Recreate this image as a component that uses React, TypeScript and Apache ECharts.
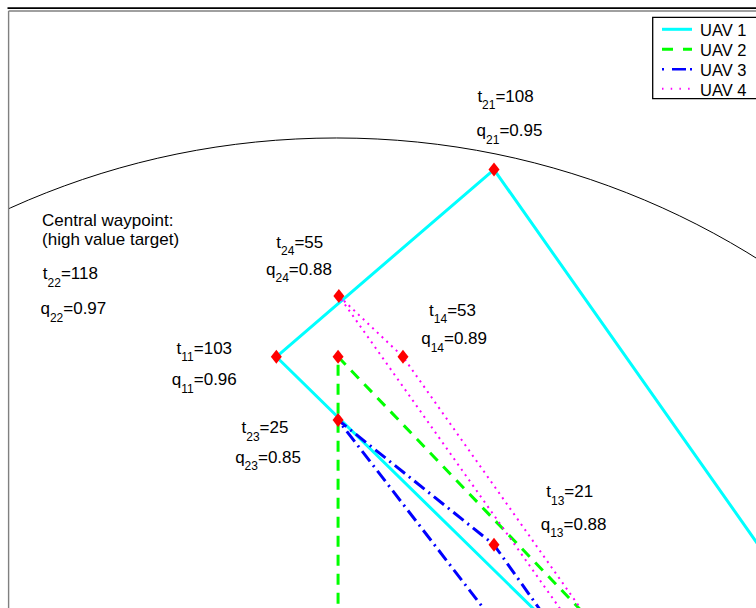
import React, { useEffect, useRef } from "react";
import * as echarts from "echarts";

// Boundary circle: centre x, centre y, radius (data units)
const boundaryCircle = [[0, 0, 10]];

// UAV routes (data units); end points leave the visible area
const uav1Path = [[6.7, 2.9], [1.99, 9.6], [-0.76, 7.23], [3.65, 2.9]];
const uav2Path = [[0.02, 2.9], [0.02, 7.23], [4.16, 2.9]];
const uav3Path = [[2.74, 2.9], [0.02, 6.43], [1.99, 4.85], [3.37, 2.9]];
const uav4Path = [[3.63, 2.9], [0.03, 8.0], [0.84, 7.23], [3.89, 2.9]];

// Waypoint markers
const waypointX = [1.99, 0.03, -0.76, 0.02, 0.84, 0.02, 1.99];
const waypointY = [9.6, 8.0, 7.23, 7.23, 7.23, 6.43, 4.85];

// Annotations
const noteLines = ["Central waypoint:", "(high value target)"];
const noteX = [-3.72, -3.72];
const noteY = [8.95, 8.71];

const targetIds = ["21", "22", "24", "11", "23", "14", "13"];
const targetTimes = [108, 118, 55, 103, 25, 53, 21];
const targetValues = [0.95, 0.97, 0.88, 0.96, 0.85, 0.89, 0.88];
const timeLabelX = [1.78, -3.71, -0.76, -2.02, -1.2, 1.17, 2.65];
const timeLabelY = [10.53, 8.28, 8.68, 7.34, 6.33, 7.82, 5.52];
const valueLabelX = [1.77, -3.74, -0.89, -2.08, -1.28, 1.07, 2.58];
const valueLabelY = [10.09, 7.84, 8.34, 6.94, 5.96, 7.46, 5.11];

const legendNames = ["UAV 1", "UAV 2", "UAV 3", "UAV 4"];

const FONT = "Liberation Sans, Arial, Helvetica, sans-serif";

export default function App() {
  const ref = useRef<HTMLDivElement>(null);

  useEffect(() => {
    if (!ref.current) return;
    const chart = echarts.init(ref.current, null, { renderer: "svg" });

    const annotationData: any[] = [];
    noteLines.forEach((t, i) => {
      annotationData.push({ value: [noteX[i], noteY[i]], text: `{n|${t}}` });
    });
    targetIds.forEach((id, i) => {
      annotationData.push({
        value: [timeLabelX[i], timeLabelY[i]],
        text: `{n|t}{s|${id}}{n|=${targetTimes[i]}}`,
      });
      annotationData.push({
        value: [valueLabelX[i], valueLabelY[i]],
        text: `{n|q}{s|${id}}{n|=${targetValues[i].toFixed(2)}}`,
      });
    });

    const lineSeries = (name: string, data: number[][], lineStyle: any) => ({
      type: "line",
      name,
      data,
      symbol: "none",
      showSymbol: false,
      clip: true,
      silent: true,
      lineStyle,
      z: 3,
    });

    const legendY = [29.3, 49.3, 69.3, 88.8];
    const legendStyles = [
      { stroke: "#00ffff", lineWidth: 3 },
      { stroke: "#00ff00", lineWidth: 3, lineDash: [11, 10] },
      { stroke: "#0000ff", lineWidth: 2.5, lineDash: [2, 8, 14, 4] },
      { stroke: "#ff00ff", lineWidth: 2, lineDash: [1.5, 7.2] },
    ];

    const graphic: any[] = [
      {
        type: "line",
        shape: { x1: 7.5, y1: 8.2, x2: 756, y2: 8.2 },
        style: { stroke: "#000", lineWidth: 1.8 },
        z: 200,
      },
      {
        type: "line",
        shape: { x1: 8.6, y1: 11, x2: 756, y2: 11 },
        style: { stroke: "#808080", lineWidth: 1.4 },
        z: 200,
      },
      {
        type: "line",
        shape: { x1: 8.6, y1: 11, x2: 8.6, y2: 608 },
        style: { stroke: "#808080", lineWidth: 1.4 },
        z: 200,
      },
      {
        type: "rect",
        shape: { x: 652.7, y: 17.3, width: 200, height: 81.4 },
        style: { fill: "#fff", stroke: "#000", lineWidth: 1.3 },
        z: 210,
      },
    ];
    legendNames.forEach((name, i) => {
      graphic.push({
        type: "line",
        shape: { x1: 662, y1: legendY[i], x2: 692, y2: legendY[i] },
        style: { ...legendStyles[i], fill: null },
        z: 211,
      });
      graphic.push({
        type: "text",
        x: 700,
        y: legendY[i] + 1,
        style: {
          text: name,
          fontSize: 16.5,
          fontFamily: FONT,
          fill: "#000",
          verticalAlign: "middle",
          align: "left",
        },
        z: 211,
      });
    });

    const option: any = {
      animation: false,
      backgroundColor: "#fff",
      grid: { left: 8, top: 10, right: 0, bottom: 0 },
      xAxis: { type: "value", min: -4.15, max: 5.3, show: false },
      yAxis: { type: "value", min: 4.05, max: 11.62, show: false },
      series: [
        {
          type: "custom",
          name: "boundary",
          clip: true,
          silent: true,
          z: 1,
          data: boundaryCircle,
          renderItem: (params: any, api: any) => {
            const c = api.coord([api.value(0), api.value(1)]);
            const s = api.size([api.value(2), api.value(2)]);
            return {
              type: "ellipse",
              shape: { cx: c[0], cy: c[1], rx: s[0], ry: s[1] },
              style: { fill: "none", stroke: "#000", lineWidth: 1 },
            };
          },
        },
        lineSeries("UAV 1", uav1Path, { color: "#00ffff", width: 3, type: "solid" }),
        lineSeries("UAV 2", uav2Path, { color: "#00ff00", width: 3, type: [11, 8] }),
        lineSeries("UAV 3", uav3Path, { color: "#0000ff", width: 3, type: [13, 5, 2, 5] }),
        lineSeries("UAV 4", uav4Path, { color: "#ff00ff", width: 2, type: [2, 4.5] }),
        {
          type: "scatter",
          name: "waypoints",
          silent: true,
          z: 5,
          symbol: "diamond",
          symbolSize: [11, 14],
          itemStyle: { color: "#ff0000", opacity: 1 },
          data: waypointX.map((x, i) => [x, waypointY[i]]),
        },
        {
          type: "scatter",
          name: "annotations",
          silent: true,
          z: 6,
          symbolSize: 0,
          itemStyle: { color: "#000", opacity: 1 },
          data: annotationData,
          label: {
            show: true,
            position: "right",
            distance: 0,
            color: "#000",
            opacity: 1,
            formatter: (p: any) => p.data.text,
            rich: {
              n: { fontSize: 17, lineHeight: 30, fontFamily: FONT, color: "#000" },
              s: {
                fontSize: 12,
                lineHeight: 12,
                verticalAlign: "bottom",
                fontFamily: FONT,
                color: "#000",
              },
            },
          },
        },
      ],
      graphic,
    };

    chart.setOption(option);
    return () => chart.dispose();
  }, []);

  return (
    <div
      ref={ref}
      style={{
        position: "fixed",
        left: 0,
        top: 0,
        width: 756,
        height: 608,
        background: "#fff",
      }}
    />
  );
}
